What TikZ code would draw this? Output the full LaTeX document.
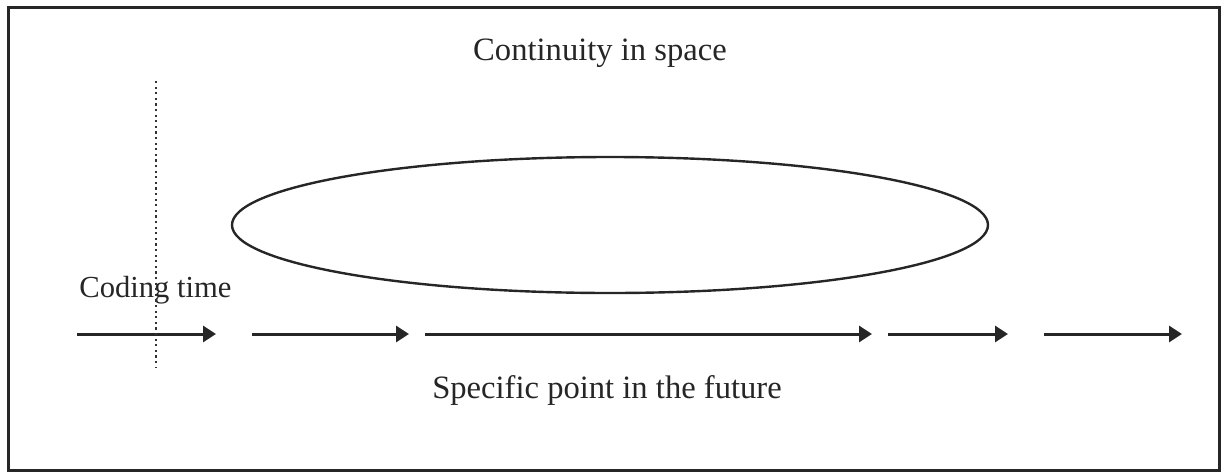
\documentclass[tikz,border=0pt]{standalone}
\usepackage{fontspec}
\setmainfont{Liberation Serif}
\usetikzlibrary{arrows.meta,shapes.geometric}
\begin{document}
\begin{tikzpicture}[x=0.5pt,y=-0.5pt,
  lbl/.style={font=\fontsize{16.3}{19}\selectfont, text=black!85, inner sep=0pt},
  tarrow/.style={line width=1.5pt, draw=black!85, -{Triangle[length=6.5pt,width=8pt]}},
  frame/.style={line width=1.5pt, draw=black!85}]
\useasboundingbox (0,0) rectangle (1223,472);
\draw[frame] (8,7) rectangle (1219,470);
\node[draw=black!85, line width=1.2pt, ellipse, minimum width=378pt, minimum height=68pt, inner sep=0pt] (ell) at (610,225) {};
\node[lbl, anchor=base] (cont) at (600,60) {Continuity in space};
\node[lbl, anchor=base west, font=\fontsize{15.3}{18}\selectfont] (cod) at (79,297) {Coding time};
\node[lbl, anchor=base] (spec) at (607,398) {Specific point in the future};
\coordinate (a1s) at (77,334); \coordinate (a1e) at (216,334);
\coordinate (a2s) at (252,334); \coordinate (a2e) at (409,334);
\coordinate (a3s) at (425,334); \coordinate (a3e) at (872,334);
\coordinate (a4s) at (888,334); \coordinate (a4e) at (1008,334);
\coordinate (a5s) at (1044,334); \coordinate (a5e) at (1182,334);
\draw[tarrow] (a1s) -- (a1e);
\draw[tarrow] (a2s) -- (a2e);
\draw[tarrow] (a3s) -- (a3e);
\draw[tarrow] (a4s) -- (a4e);
\draw[tarrow] (a5s) -- (a5e);
\coordinate (dt) at (156,81); \coordinate (db) at (156,368);
\draw[line width=1.3pt, draw=black!80, dash pattern=on 1.1pt off 1.7pt] (dt) -- (db);
\end{tikzpicture}
\end{document}
